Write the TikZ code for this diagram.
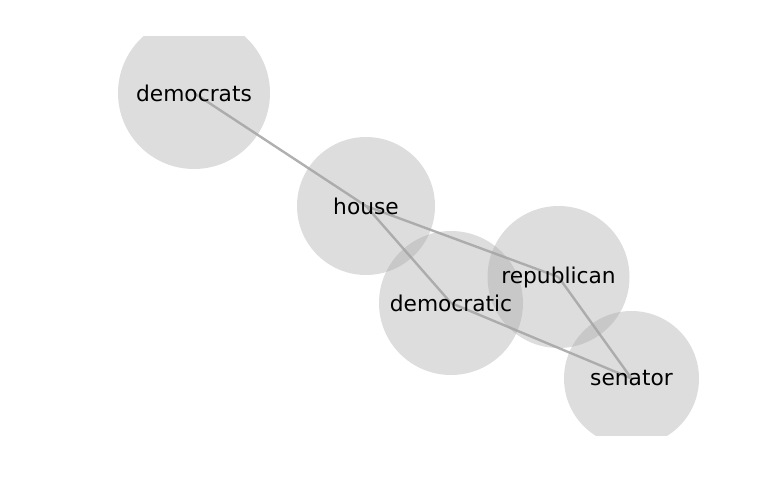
\documentclass[tikz,border=0pt]{standalone}
\usepackage{fontspec}
\setmainfont{DejaVu Sans}
\usepackage{tikz}
\usetikzlibrary{backgrounds}
\pgfdeclarelayer{links}
\pgfsetlayers{links,background,main}
\definecolor{bubGray}{RGB}{166,166,166}
\definecolor{edgeGray}{RGB}{176,176,176}
\tikzset{
    base/.style={font=\fontsize{16.3}{20}\selectfont, align=center, text=black},
    word/.style={base, inner sep=0pt},
    bubble/.style={fill=bubGray, fill opacity=0.38},
    link/.style={draw=edgeGray, line width=1.8pt}
}

\begin{document}
\begin{tikzpicture}[x=0.75pt, y=-0.75pt]
  % Frame
  \useasboundingbox (0,0) rectangle (770,500);

  % Word labels
  \node[word] (democrats) at (194,93) {democrats};
  \node[word] (house) at (366,206) {house};
  \node[word] (democratic) at (451,303) {democratic};
  \node[word] (republican) at (558.5,277) {republican};
  \node[word] (senator) at (631.5,378.5) {senator};

  % Node discs, cut by the axes box
  \begin{scope}[on background layer]
    \clip (0,36) rectangle (770,435);
    \fill[bubble] (democrats.center) circle (76);
    \fill[bubble] (house.center) circle (69);
    \fill[bubble] (democratic.center) circle (72);
    \fill[bubble] (republican.center) circle (71);
    \fill[bubble] (senator.center) circle (67.5);
  \end{scope}

  % Co-occurrence edges
  \begin{pgfonlayer}{links}
    \draw[link] (democrats.center) -- (house.center);
    \draw[link] (house.center) -- (democratic.center);
    \draw[link] (house.center) -- (republican.center);
    \draw[link] (democratic.center) -- (senator.center);
    \draw[link] (republican.center) -- (senator.center);
  \end{pgfonlayer}
\end{tikzpicture}
\end{document}
